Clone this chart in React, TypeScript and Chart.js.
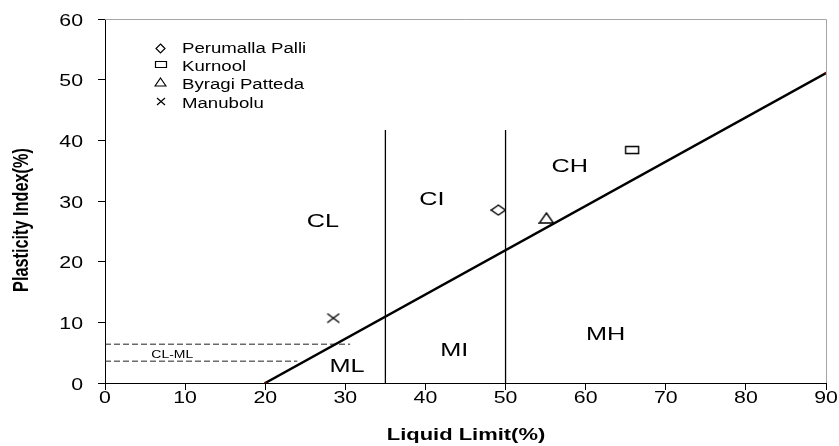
import { useEffect, useRef } from 'react';
import { Chart, registerables } from 'chart.js';

Chart.register(...registerables);

// ---- data ----
const xTicks = [0, 10, 20, 30, 40, 50, 60, 70, 80, 90];
const yTicks = [0, 10, 20, 30, 40, 50, 60];

const sampleNames = ['Perumalla Palli', 'Kurnool', 'Byragi Patteda', 'Manubolu'];
const sampleMarkers = ['diamond', 'square', 'triangle', 'cross'];
const liquidLimit = [49.1, 65.8, 55.1, 28.5];
const plasticityIndex = [28.5, 38.4, 27.2, 10.7];

const aLineLL = [20, 90];
const aLinePI = [0, 51.1];

const boundaryLL = [35, 50];
const boundaryPI = [0, 41.7];

const dashPI = [6.4, 3.6];
const dashEndLL = [30.6, 24.0];

const zoneNames = ['CL', 'CI', 'CH', 'ML', 'MI', 'MH', 'CL-ML'];
const zoneLL = [27.2, 40.8, 58.0, 30.2, 43.6, 62.5, 8.4];
const zonePI = [26.8, 30.5, 35.9, 2.95, 5.65, 8.2, 4.7];
const zoneSizes = [19, 19, 19, 19, 19, 19, 10.5];

const xTitle = 'Liquid Limit(%)';
const yTitle = 'Plasticity Index(%)';

const FONT = '"Liberation Sans", Arial, sans-serif';
const SX = 1.33;

function makeMarker(kind: string, w: number, h: number, lw: number): HTMLCanvasElement {
  const c = document.createElement('canvas');
  c.width = w + 2;
  c.height = h + 2;
  const ctx = c.getContext('2d')!;
  ctx.strokeStyle = '#000';
  ctx.fillStyle = '#fff';
  ctx.lineWidth = lw;
  ctx.beginPath();
  if (kind === 'diamond') {
    ctx.moveTo(1 + w / 2, 1);
    ctx.lineTo(1 + w, 1 + h / 2);
    ctx.lineTo(1 + w / 2, 1 + h);
    ctx.lineTo(1, 1 + h / 2);
    ctx.closePath();
    ctx.fill();
  } else if (kind === 'square') {
    ctx.rect(1.5, 1.5, w - 1, h - 1);
    ctx.fill();
  } else if (kind === 'triangle') {
    ctx.moveTo(1 + w / 2, 1);
    ctx.lineTo(1 + w, 1 + h);
    ctx.lineTo(1, 1 + h);
    ctx.closePath();
    ctx.fill();
  } else {
    ctx.moveTo(1, 1);
    ctx.lineTo(1 + w, 1 + h);
    ctx.moveTo(1 + w, 1);
    ctx.lineTo(1, 1 + h);
  }
  ctx.stroke();
  return c;
}

const dataMarkerSize: Record<string, [number, number]> = {
  diamond: [14, 10],
  square: [14, 8],
  triangle: [14, 10],
  cross: [12, 9],
};
const legendMarkerSize: Record<string, [number, number]> = {
  diamond: [9, 9],
  square: [12, 7],
  triangle: [11, 8],
  cross: [8, 7],
};

function drawText(
  ctx: CanvasRenderingContext2D,
  text: string,
  x: number,
  capCenterY: number,
  size: number,
  bold: boolean,
  align: CanvasTextAlign
) {
  ctx.save();
  ctx.font = `${bold ? 'bold ' : ''}${size}px ${FONT}`;
  ctx.fillStyle = '#000';
  ctx.textAlign = align;
  ctx.textBaseline = 'alphabetic';
  ctx.translate(x, capCenterY + 0.358 * size);
  ctx.scale(SX, 1);
  ctx.fillText(text, 0, 0);
  ctx.restore();
}

export default function App() {
  const ref = useRef<HTMLCanvasElement | null>(null);

  useEffect(() => {
    document.body.style.margin = '0';
    const canvas = ref.current!;
    const legendMarkers = sampleMarkers.map((m) =>
      makeMarker(m, legendMarkerSize[m][0], legendMarkerSize[m][1], 1.2)
    );

    const textPlugin = {
      id: 'texts',
      afterDraw(chart: any) {
        const ctx: CanvasRenderingContext2D = chart.ctx;
        const { left, right, top, bottom } = chart.chartArea;
        const xs = chart.scales.x;
        const ys = chart.scales.y;
        ctx.save();
        // top/right frame
        ctx.strokeStyle = '#a6a6a6';
        ctx.lineWidth = 1;
        ctx.beginPath();
        ctx.moveTo(left, top + 0.5);
        ctx.lineTo(right + 0.5, top + 0.5);
        ctx.lineTo(right + 0.5, bottom);
        ctx.stroke();
        ctx.restore();

        // tick labels
        xTicks.forEach((v) => drawText(ctx, String(v), xs.getPixelForValue(v), 397.5, 16, false, 'center'));
        yTicks.forEach((v) => drawText(ctx, String(v), 83, ys.getPixelForValue(v) + 1, 16, false, 'right'));

        // axis titles
        drawText(ctx, xTitle, (left + right) / 2 + 0.5, 434, 16.5, true, 'center');
        ctx.save();
        ctx.font = `bold 16.3px ${FONT}`;
        ctx.fillStyle = '#000';
        ctx.textAlign = 'center';
        ctx.textBaseline = 'alphabetic';
        ctx.translate(27.5, 220);
        ctx.rotate(-Math.PI / 2);
        ctx.scale(1, SX);
        ctx.fillText(yTitle, 0, 0);
        ctx.restore();

        // zone labels
        zoneNames.forEach((n, i) =>
          drawText(ctx, n, xs.getPixelForValue(zoneLL[i]), ys.getPixelForValue(zonePI[i]), zoneSizes[i], false, 'center')
        );

        // legend
        const textRows = [47.5, 65.5, 84, 102.5];
        const markRows = [48, 64.5, 81.5, 101.5];
        sampleNames.forEach((n, i) => {
          const mk = legendMarkers[i];
          ctx.drawImage(mk, Math.round(160.5 - mk.width / 2), Math.round(markRows[i] - mk.height / 2));
          drawText(ctx, n, 182, textRows[i], 14, false, 'left');
        });
      },
    };

    const datasets: any[] = [];
    // sample points
    sampleNames.forEach((n, i) => {
      const m = sampleMarkers[i];
      datasets.push({
        type: 'scatter',
        label: n,
        data: [{ x: liquidLimit[i], y: plasticityIndex[i] }],
        pointStyle: makeMarker(m, dataMarkerSize[m][0], dataMarkerSize[m][1], 1.4),
        pointRadius: 6,
        showLine: false,
      });
    });
    // A-line
    datasets.push({
      type: 'line',
      label: 'A-line',
      data: aLineLL.map((x, i) => ({ x, y: aLinePI[i] })),
      borderColor: '#000',
      borderWidth: 2.5,
      pointRadius: 1.3,
      pointBackgroundColor: '#8b0000',
      pointBorderWidth: 0,
      fill: false,
    });
    // vertical boundaries
    boundaryLL.forEach((b) => {
      datasets.push({
        type: 'line',
        label: 'LL ' + b,
        data: boundaryPI.map((y) => ({ x: b, y })),
        borderColor: '#000',
        borderWidth: 1.3,
        pointRadius: 0,
        fill: false,
      });
    });
    // CL-ML dashed lines
    dashPI.forEach((p, i) => {
      datasets.push({
        type: 'line',
        label: 'PI ' + p,
        data: [
          { x: 0, y: p },
          { x: dashEndLL[i], y: p },
        ],
        borderColor: '#222',
        borderWidth: 1,
        borderDash: [6, 3],
        pointRadius: 0,
        fill: false,
      });
    });

    const chart = new Chart(canvas, {
      type: 'scatter',
      data: { datasets },
      options: {
        responsive: false,
        animation: false,
        devicePixelRatio: 1,
        layout: { padding: { left: 0, right: 13, top: 19, bottom: 0 } },
        plugins: { legend: { display: false }, tooltip: { enabled: false } },
        scales: {
          x: {
            type: 'linear',
            min: 0,
            max: 90,
            ticks: { display: false, stepSize: 10 },
            grid: { drawOnChartArea: false, drawTicks: true, tickLength: 7, color: '#000' },
            border: { display: true, color: '#000', width: 1 },
            afterFit: (s: any) => {
              s.height = 63;
            },
          },
          y: {
            type: 'linear',
            min: 0,
            max: 60,
            ticks: { display: false, stepSize: 10 },
            grid: { drawOnChartArea: false, drawTicks: true, tickLength: 7, color: '#000' },
            border: { display: true, color: '#000', width: 1 },
            afterFit: (s: any) => {
              s.width = 105;
            },
          },
        },
      } as any,
      plugins: [textPlugin],
    });
    return () => chart.destroy();
  }, []);

  return (
    <canvas
      ref={ref}
      width={839}
      height={446}
      style={{ display: 'block', width: 839, height: 446, background: '#fff' }}
    />
  );
}
